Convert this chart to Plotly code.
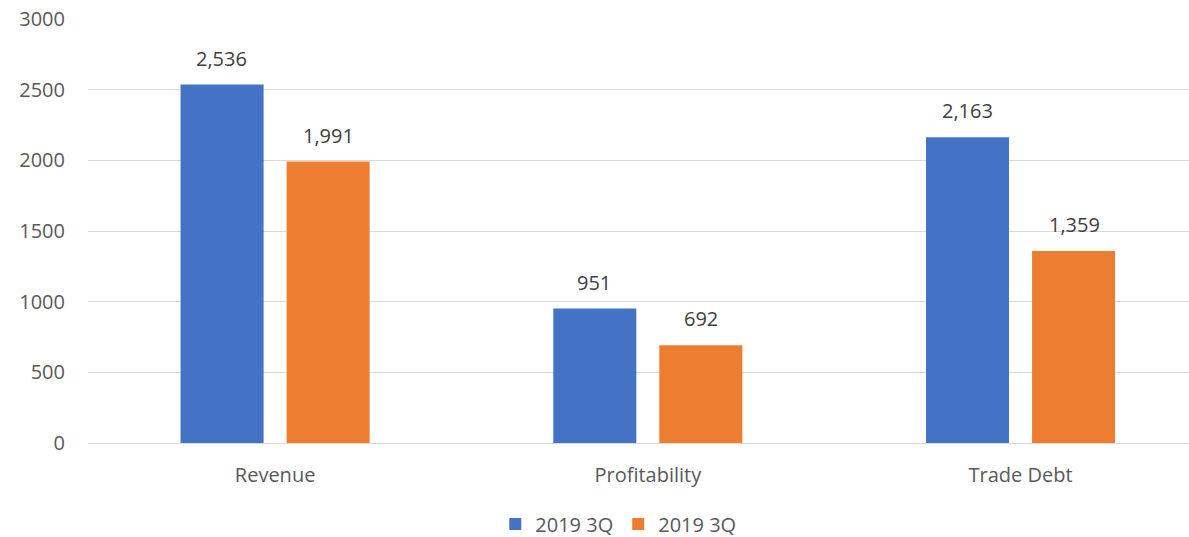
import plotly.graph_objects as go

categories = ["Revenue", "Profitability", "Trade Debt"]
series_a_name = "2019 3Q"
series_a = [2536, 951, 2163]
series_b_name = "2019 3Q"
series_b = [1991, 692, 1359]
y_ticks = [0, 500, 1000, 1500, 2000, 2500, 3000]

FONT = "'Open Sans', sans-serif"
FS = 20
fig = go.Figure()
fig.add_trace(go.Bar(x=categories, y=series_a, name=series_a_name,
                     marker=dict(color="#4472C4", line=dict(width=0))))
fig.add_trace(go.Bar(x=categories, y=series_b, name=series_b_name,
                     marker=dict(color="#ED7D31", line=dict(width=0))))

ann = []
for vals, shift in ((series_a, -53.5), (series_b, 53.5)):
    for c, v in zip(categories, vals):
        ann.append(dict(x=c, y=v, text=f"{v:,}", showarrow=False, xref="x", yref="y",
                        xshift=shift, yshift=11, yanchor="bottom",
                        font=dict(family=FONT, size=FS, color="#404040")))

fig.update_layout(
    width=1189, height=537,
    margin=dict(l=88, r=0, t=19, b=94),
    paper_bgcolor="white", plot_bgcolor="white",
    barmode="group", bargap=0.431, bargroupgap=0.217,
    font=dict(family=FONT, size=FS, color="#595959"),
    xaxis=dict(range=[-0.502, 2.452], showgrid=False, showline=False, ticks="",
               automargin=False, ticklabelstandoff=18,
               tickfont=dict(size=FS, color="#595959")),
    yaxis=dict(range=[0, 3000], tickvals=y_ticks, ticktext=[str(t) for t in y_ticks],
               showgrid=True, gridcolor="#D9D9D9", gridwidth=1, zeroline=True,
               zerolinecolor="#D9D9D9", zerolinewidth=1, ticks="", automargin=False,
               ticklabelstandoff=22, tickfont=dict(size=FS, color="#595959")),
    legend=dict(orientation="h", x=0.52, xanchor="center", xref="container",
                y=0.024, yanchor="middle", yref="container",
                font=dict(size=FS, color="#595959"), itemwidth=30, traceorder="normal"),
    annotations=ann,
)
fig.write_html("out.html")
